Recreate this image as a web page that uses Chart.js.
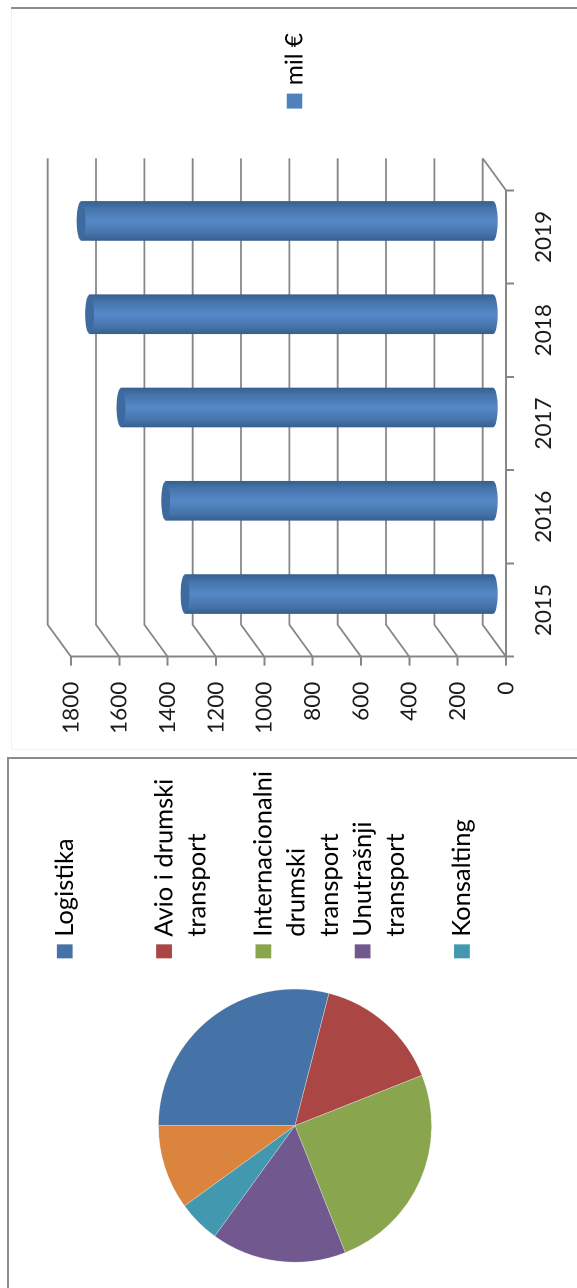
<!DOCTYPE html>
<html>
<head>
<meta charset="utf-8">
<script src="https://cdn.jsdelivr.net/npm/chart.js@4/dist/chart.umd.min.js"></script>
<style>
html,body{margin:0;padding:0;background:#fff;width:577px;height:1288px;overflow:hidden}
#page{position:absolute;left:0;top:0;width:1288px;height:577px;transform-origin:0 0;
 transform:translate(0,1288px) rotate(-90deg);filter:blur(0.45px)}
canvas{position:absolute}
.frame{position:absolute;box-sizing:border-box}
</style>
</head>
<body>
<div id="page">
 <div class="frame" style="left:-6px;top:6.8px;width:536.6px;height:580px;border-top:2.5px solid #8c8c8c;border-right:2.5px solid #8c8c8c"></div>
 <div class="frame" style="left:538px;top:11px;width:742px;height:580px;border-top:1px solid #f3f3f3;border-left:1px solid #f3f3f3"></div>
 <div class="frame" style="left:1278.5px;top:11px;width:2.5px;height:570px;background:#8c8c8c"></div>
 <canvas id="pie"></canvas>
 <canvas id="bars"></canvas>
</div>
<script>
const shareLabels = ['Logistika','Avio i drumski transport','Internacionalni drumski transport','Unutrašnji transport','Konsalting',''];
const shareValues = [29,15,25,16,5,10];
const shareColors = ['#4572A7','#AA4643','#89A54E','#71588F','#4198AF','#DB843D'];
const legendLines = [['Logistika','',''],['Avio i drumski','transport',''],['Internacionalni','drumski','transport'],['Unutrašnji','transport',''],['Konsalting']];
const years = ['2015','2016','2017','2018','2019'];
const milEur = [1280,1360,1545,1675,1710];
const seriesName = 'mil €';

const FONT = 'Lato';
const TXT = '#1c1c1c';
const AXIS = '#868686';
const PIE_FONT = 25.5, TICK_FONT = 22.5, BAR_LEGEND_FONT = 24.5;
const mctx = document.createElement('canvas').getContext('2d');

/* legend swatches are drawn with a thick stroke, so the legend must not clip them */
const noLegendClip = {
  id: 'noLegendClip',
  afterLayout(chart) {
    chart.legend.draw = function () { this._draw(); };
    if (chart.scales.x) chart.scales.x.bottom = chart.height;
  }
};

/* ---------- pie ---------- */
const pieCanvas = document.getElementById('pie');
mctx.font = PIE_FONT + 'px ' + FONT;
const pieLegendW = 3.7 + PIE_FONT / 2 + mctx.measureText('Internacionalni').width + 10;
pieCanvas.width = Math.round(344.7 + pieLegendW);
pieCanvas.height = 486;
pieCanvas.style.left = '-10.15px';
pieCanvas.style.top = '51.7px';
new Chart(pieCanvas, {
  type: 'pie',
  plugins: [noLegendClip],
  data: { labels: shareLabels, datasets: [{ data: shareValues, backgroundColor: shareColors, borderColor: '#e8e8e8', borderWidth: 0.5, radius: 136.6 }] },
  options: {
    responsive: false, animation: false, devicePixelRatio: 2,
    plugins: {
      tooltip: { enabled: false },
      legend: {
        position: 'right', align: 'start',
        labels: {
          boxWidth: 3.7, boxHeight: 5.5, padding: 0, color: TXT,
          font: { family: FONT, size: PIE_FONT, lineHeight: 1.298 },
          generateLabels: () => legendLines.map((t, i) => ({ text: t, fillStyle: shareColors[i], strokeStyle: shareColors[i], lineWidth: 10.3, index: i }))
        }
      }
    }
  }
});

/* ---------- 3D-looking cylinders ---------- */
const DEPTH_U = 32, DEPTH_V = -23.3, BAR_U = 16, BAR_V = -11.7, CAP_RY = 4.4;
const wallPlugin = {
  id: 'wall',
  beforeDatasetsDraw(chart) {
    const { ctx, chartArea: a, scales: { y } } = chart;
    ctx.save();
    ctx.strokeStyle = AXIS; ctx.lineWidth = 1.8;
    y.ticks.forEach((t, i) => {
      const py = y.getPixelForTick(i);
      ctx.beginPath();
      ctx.moveTo(a.left, py);
      ctx.lineTo(a.left + DEPTH_U, py + DEPTH_V);
      ctx.lineTo(a.right + DEPTH_U, py + DEPTH_V);
      ctx.stroke();
    });
    ctx.beginPath();
    ctx.moveTo(a.right, a.bottom);
    ctx.lineTo(a.right + DEPTH_U, a.bottom + DEPTH_V);
    ctx.stroke();
    ctx.restore();
    ctx.save();
    ctx.translate(BAR_U, BAR_V);
    chart.getDatasetMeta(0).data.forEach(el => {
      ctx.beginPath();
      ctx.ellipse(el.x, el.base, el.width / 2, CAP_RY, 0, 0, Math.PI * 2);
      ctx.fillStyle = el.options.backgroundColor;
      ctx.fill();
    });
  },
  afterDatasetsDraw(chart) {
    const { ctx } = chart;
    chart.getDatasetMeta(0).data.forEach(el => {
      ctx.beginPath();
      ctx.ellipse(el.x, el.y, el.width / 2, CAP_RY, 0, 0, Math.PI * 2);
      ctx.fillStyle = '#3d6a9f';
      ctx.fill();
    });
    ctx.restore();
  }
};

const barCanvas = document.getElementById('bars');
const barLegendPad = 85.65;
mctx.font = BAR_LEGEND_FONT + 'px ' + FONT;
const barLegendW = barLegendPad + 7.1 + BAR_LEGEND_FONT / 2 + mctx.measureText(seriesName).width + 10;
barCanvas.width = Math.round(552 + barLegendW);
barCanvas.height = 573;
barCanvas.style.left = '546px';
barCanvas.style.top = '8px';
const BAR_W = 39;
new Chart(barCanvas, {
  type: 'bar',
  plugins: [wallPlugin, noLegendClip],
  data: {
    labels: years,
    datasets: [{
      label: seriesName,
      data: milEur,
      barThickness: BAR_W,
      clip: false,
      backgroundColor(c) {
        const x = c.chart.scales.x;
        if (!x || c.dataIndex === undefined) return '#4F81BD';
        const cx = x.getPixelForValue(c.dataIndex);
        const g = c.chart.ctx.createLinearGradient(cx - BAR_W / 2, 0, cx + BAR_W / 2, 0);
        g.addColorStop(0, '#37608f');
        g.addColorStop(0.18, '#4674ab');
        g.addColorStop(0.5, '#5689c8');
        g.addColorStop(0.82, '#4674ab');
        g.addColorStop(1, '#37608f');
        return g;
      }
    }]
  },
  options: {
    responsive: false, animation: false, devicePixelRatio: 2,
    layout: { padding: { top: 63, bottom: 63 } },
    scales: {
      x: {
        afterFit(s) { s.height = 12; },
        border: { color: AXIS, width: 2 },
        grid: { drawOnChartArea: false, drawTicks: true, tickLength: 8, color: AXIS, lineWidth: 2 },
        ticks: { color: TXT, padding: 16, maxRotation: 0, minRotation: 0, autoSkip: false, font: { family: FONT, size: TICK_FONT } }
      },
      y: {
        min: 0, max: 1800,
        afterFit(s) { s.width = 85.3; },
        border: { color: AXIS, width: 2 },
        grid: { drawOnChartArea: false, drawTicks: true, tickLength: 9, color: AXIS, lineWidth: 2 },
        ticks: { stepSize: 200, color: TXT, padding: 16, font: { family: FONT, size: TICK_FONT }, callback: v => String(v) }
      }
    },
    plugins: {
      tooltip: { enabled: false },
      legend: {
        position: 'right', align: 'center',
        labels: {
          boxWidth: 7.1, boxHeight: 7.6, padding: barLegendPad, color: TXT,
          font: { family: FONT, size: BAR_LEGEND_FONT },
          generateLabels: () => [{ text: seriesName, fillStyle: '#4F81BD', strokeStyle: '#4F81BD', lineWidth: 7.9, datasetIndex: 0 }]
        }
      }
    }
  }
});
</script>
</body>
</html>
